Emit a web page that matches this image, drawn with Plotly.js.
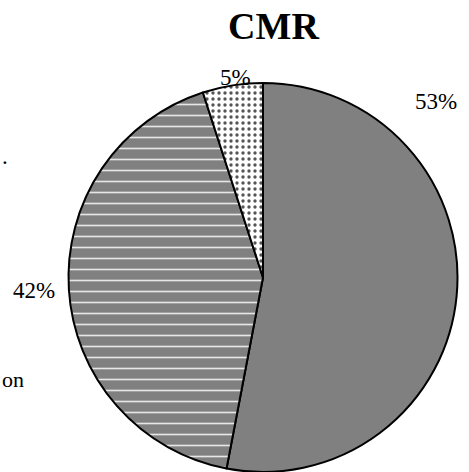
<!DOCTYPE html>
<html>
<head>
<meta charset="utf-8">
<script src="https://cdn.plot.ly/plotly-3.0.1.min.js"></script>
<style>html,body{margin:0;padding:0;background:#fff;}#chart{width:469px;height:472px;}</style>
</head>
<body>
<div id="chart"></div>
<script>
// Data
const categories = ["A", "B", "C"];
const values = [53, 42, 5];
const sliceLabels = ["53%", "42%", "5%"];
const titleText = "CMR";

const FONT = "Liberation Serif, Times New Roman, serif";
const W = 469, H = 472;
const cx = 263, cy = 278, r = 195;

const trace = {
  type: "pie",
  labels: categories,
  values: values,
  sort: false,
  direction: "clockwise",
  rotation: 0,
  textinfo: "none",
  hoverinfo: "none",
  showlegend: false,
  domain: { x: [(cx - r) / W, (cx + r) / W], y: [(H - cy - r) / H, (H - cy + r) / H] },
  marker: {
    colors: ["#808080", "#808080", "#ffffff"],
    line: { color: "#000000", width: 2 },
    pattern: {
      shape: ["", "-", "."],
      fgcolor: ["#808080", "#e6e6e6", "#555555"],
      bgcolor: ["#808080", "#808080", "#ffffff"],
      size: [8, 11, 6],
      solidity: [0.1, 0.15, 0.25]
    }
  }
};

const labelPos = [[436, 101], [34, 290], [235, 77]];
const annotations = sliceLabels.map((t, i) => ({
  text: t, xref: "paper", yref: "paper",
  x: labelPos[i][0] / W, y: 1 - labelPos[i][1] / H,
  xanchor: "center", yanchor: "middle", showarrow: false,
  font: { family: FONT, size: 23, color: "#000" }
}));
// fragments at left edge
annotations.push({ text: "on", xref: "paper", yref: "paper", x: 0, y: 1 - 379 / H,
  xanchor: "left", yanchor: "middle", showarrow: false, font: { family: FONT, size: 22, color: "#000" } });
annotations.push({ text: ".", xref: "paper", yref: "paper", x: 0, y: 1 - 156 / H,
  xanchor: "left", yanchor: "middle", showarrow: false, font: { family: FONT, size: 23, color: "#000" } });

const layout = {
  width: W, height: H,
  margin: { l: 0, r: 0, t: 0, b: 0 },
  paper_bgcolor: "#ffffff",
  title: { text: "<b>" + titleText + "</b>", x: 273.5 / W, xanchor: "center", y: 1 - 26 / H, yanchor: "middle",
    font: { family: FONT, size: 38, color: "#000" } },
  annotations: annotations
};

Plotly.newPlot("chart", [trace], layout, { displayModeBar: false, staticPlot: true });
</script>
</body>
</html>
